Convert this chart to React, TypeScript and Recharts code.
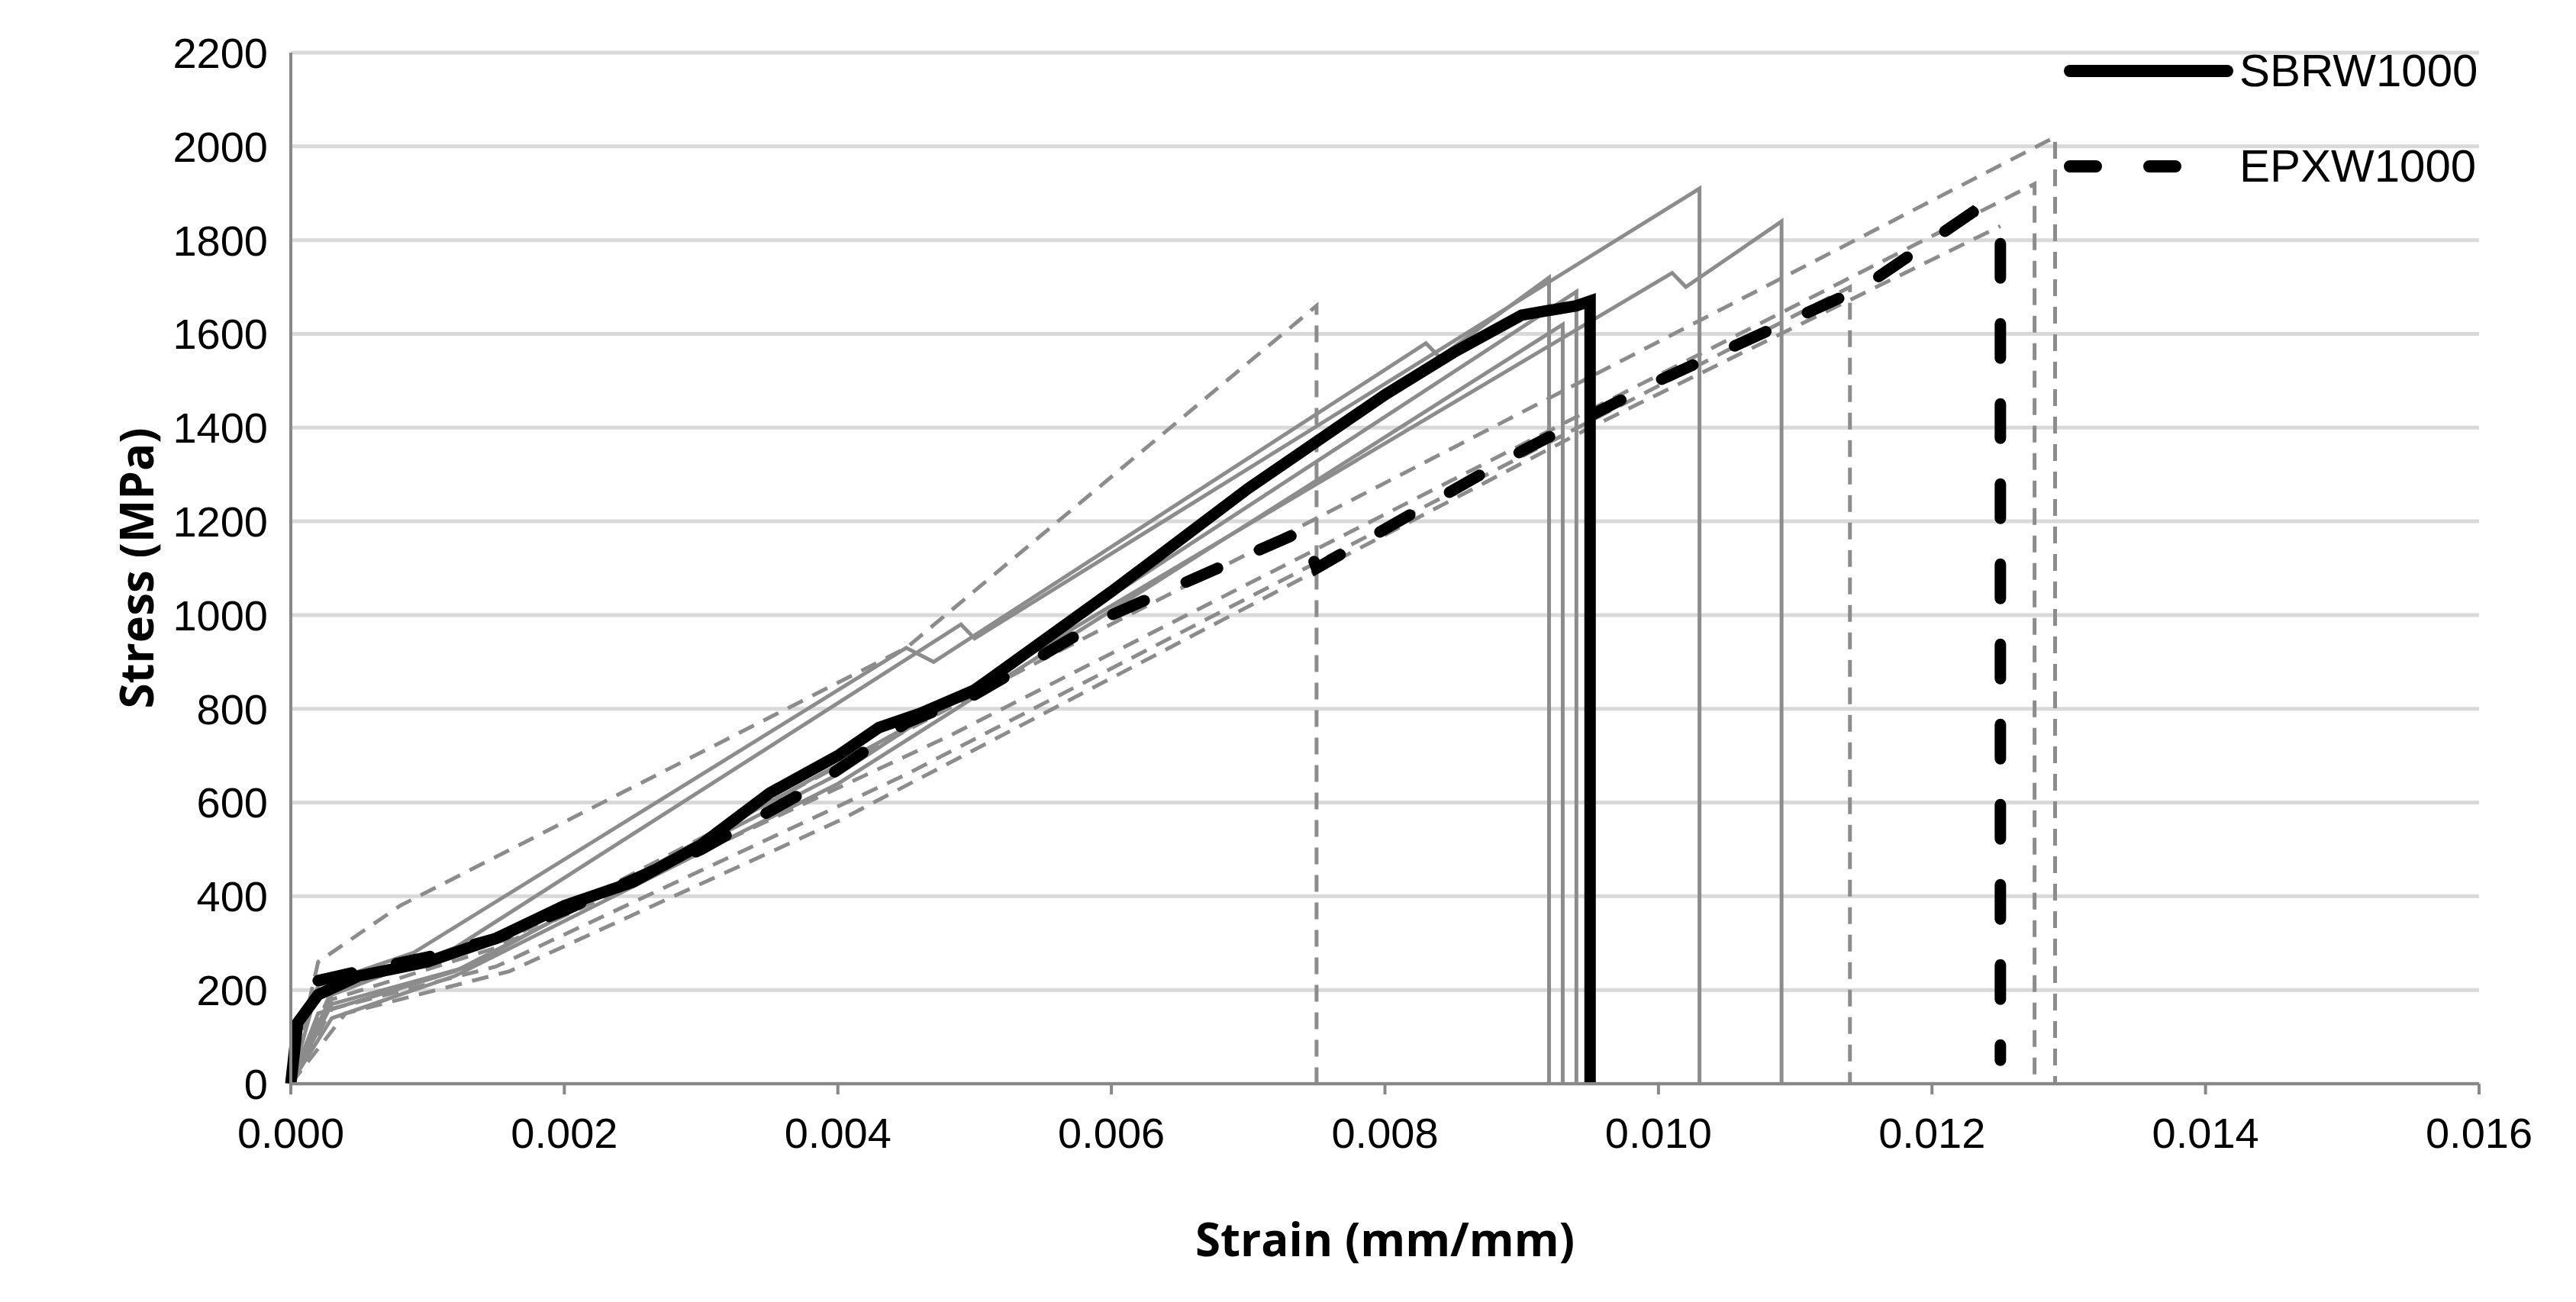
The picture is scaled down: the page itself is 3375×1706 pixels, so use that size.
import { LineChart, Line, XAxis, YAxis, CartesianGrid } from "recharts";

type Pt = { x: number; y: number };
const pts = (a: number[][]): Pt[] => a.map(([x, y]) => ({ x, y }));

const xTicks = [0, 0.002, 0.004, 0.006, 0.008, 0.01, 0.012, 0.014, 0.016];
const yTicks = [0, 200, 400, 600, 800, 1000, 1200, 1400, 1600, 1800, 2000, 2200];

// grey solid: SBRW1000 individual specimens
const sbrSamples = [
  pts([[0, 0], [0.0002, 210], [0.0009, 280], [0.0045, 930], [0.0047, 900], [0.0083, 1580], [0.0084, 1550], [0.0092, 1720], [0.0092, 0]]),
  pts([[0, 0], [0.0003, 190], [0.0012, 290], [0.0049, 980], [0.005, 950], [0.0103, 1910], [0.0103, 0]]),
  pts([[0, 0], [0.0003, 170], [0.0013, 250], [0.0045, 760], [0.0101, 1730], [0.0102, 1700], [0.0109, 1840], [0.0109, 0]]),
  pts([[0, 0], [0.0002, 150], [0.0012, 240], [0.004, 660], [0.0094, 1690], [0.0094, 0]]),
  pts([[0, 0], [0.0003, 140], [0.0012, 230], [0.004, 640], [0.0093, 1620], [0.0093, 0]]),
];

// grey dashed: EPXW1000 individual specimens
const epxSamples = [
  pts([[0, 0], [0.0002, 260], [0.0008, 380], [0.0045, 930], [0.0075, 1660], [0.0075, 0]]),
  pts([[0, 0], [0.0003, 200], [0.0016, 310], [0.005, 830], [0.0129, 2020], [0.0129, 0]]),
  pts([[0, 0], [0.0003, 180], [0.0015, 290], [0.0048, 740], [0.01275, 1920], [0.01275, 0]]),
  pts([[0, 0], [0.0003, 160], [0.0015, 250], [0.0045, 660], [0.0114, 1700], [0.0114, 0]]),
  pts([[0, 0], [0.0004, 150], [0.0016, 240], [0.004, 560], [0.0095, 1400], [0.0125, 1830]]),
];

const sbrMean = pts([
  [0, 0], [0.00005, 130], [0.0002, 190], [0.0005, 230], [0.001, 260], [0.0015, 310], [0.002, 380],
  [0.0025, 430], [0.003, 510], [0.0035, 620], [0.004, 700], [0.0043, 760], [0.0046, 790], [0.005, 840],
  [0.006, 1050], [0.007, 1270], [0.008, 1470], [0.0085, 1560], [0.009, 1640], [0.0094, 1660],
  [0.0095, 1670], [0.0095, 0],
]);

const epxMean = pts([
  [0.0002, 220], [0.0005, 240], [0.001, 270], [0.0015, 310], [0.002, 370], [0.003, 500], [0.0038, 630],
  [0.0045, 770], [0.005, 830], [0.006, 1000], [0.0074, 1180], [0.0075, 1100], [0.009, 1350],
  [0.01, 1500], [0.0115, 1700], [0.0123, 1860], [0.0125, 1820], [0.0125, 50],
]);

const font = "'Liberation Sans', Arial, sans-serif";
const tick = { fontSize: 56, fill: "#000", fontFamily: font };

function LegendBox() {
  const row = (label: string, dash?: string) => (
    <div style={{ display: "flex", alignItems: "center", height: 125 }}>
      <svg width={230} height={30}>
        <line x1={12} y1={15} x2={218} y2={15} stroke="#000" strokeWidth={16}
          strokeLinecap="round" strokeDasharray={dash} />
      </svg>
      <span style={{ fontSize: 60, fontFamily: font, marginLeft: 4 }}>{label}</span>
    </div>
  );
  return (
    <div style={{ position: "absolute", top: 30, left: 2700 }}>
      {row("SBRW1000")}
      {row("EPXW1000", "34 70")}
    </div>
  );
}

export default function App() {
  return (
    <div style={{ position: "fixed", left: 0, top: 0, background: "#fff", width: 3375, height: 1706 }}>
      <LineChart width={3375} height={1706} margin={{ top: 69, right: 127, left: 200, bottom: 170 }}>
        <CartesianGrid vertical={false} stroke="#d9d9d9" strokeWidth={5} />
        <XAxis dataKey="x" type="number" domain={[0, 0.016]} ticks={xTicks}
          tickFormatter={(v: number) => v.toFixed(3)} tick={tick} stroke="#888" strokeWidth={4}
          tickSize={14} tickMargin={30} height={116}
          label={{ value: "Strain (mm/mm)", position: "insideBottom", offset: -110,
            style: { fontSize: 60, fontWeight: "bold", fill: "#000", fontFamily: "'Open Sans', sans-serif" } }} />
        <YAxis type="number" domain={[0, 2200]} ticks={yTicks} tick={tick} stroke="#888"
          strokeWidth={4} tickLine={false} tickMargin={24} width={181}
          label={{ value: "Stress (MPa)", angle: -90, position: "insideLeft", offset: -20,
            style: { fontSize: 60, fontWeight: "bold", fill: "#000", fontFamily: "'Open Sans', sans-serif", textAnchor: "middle" } }} />
        {sbrSamples.map((d, i) => (
          <Line key={"s" + i} data={d} dataKey="y" type="linear" dot={false} stroke="#8c8c8c"
            strokeWidth={5} isAnimationActive={false} legendType="none" />
        ))}
        {epxSamples.map((d, i) => (
          <Line key={"e" + i} data={d} dataKey="y" type="linear" dot={false} stroke="#8c8c8c"
            strokeWidth={5} strokeDasharray="22 14" isAnimationActive={false} legendType="none" />
        ))}
        <Line data={sbrMean} dataKey="y" name="SBRW1000" type="linear" dot={false} stroke="#000"
          strokeWidth={15} isAnimationActive={false} />
        <Line data={epxMean} dataKey="y" name="EPXW1000" type="linear" dot={false} stroke="#000"
          strokeWidth={15} strokeDasharray="45 60" strokeLinecap="round" isAnimationActive={false} />
      </LineChart>
      <LegendBox />
    </div>
  );
}
